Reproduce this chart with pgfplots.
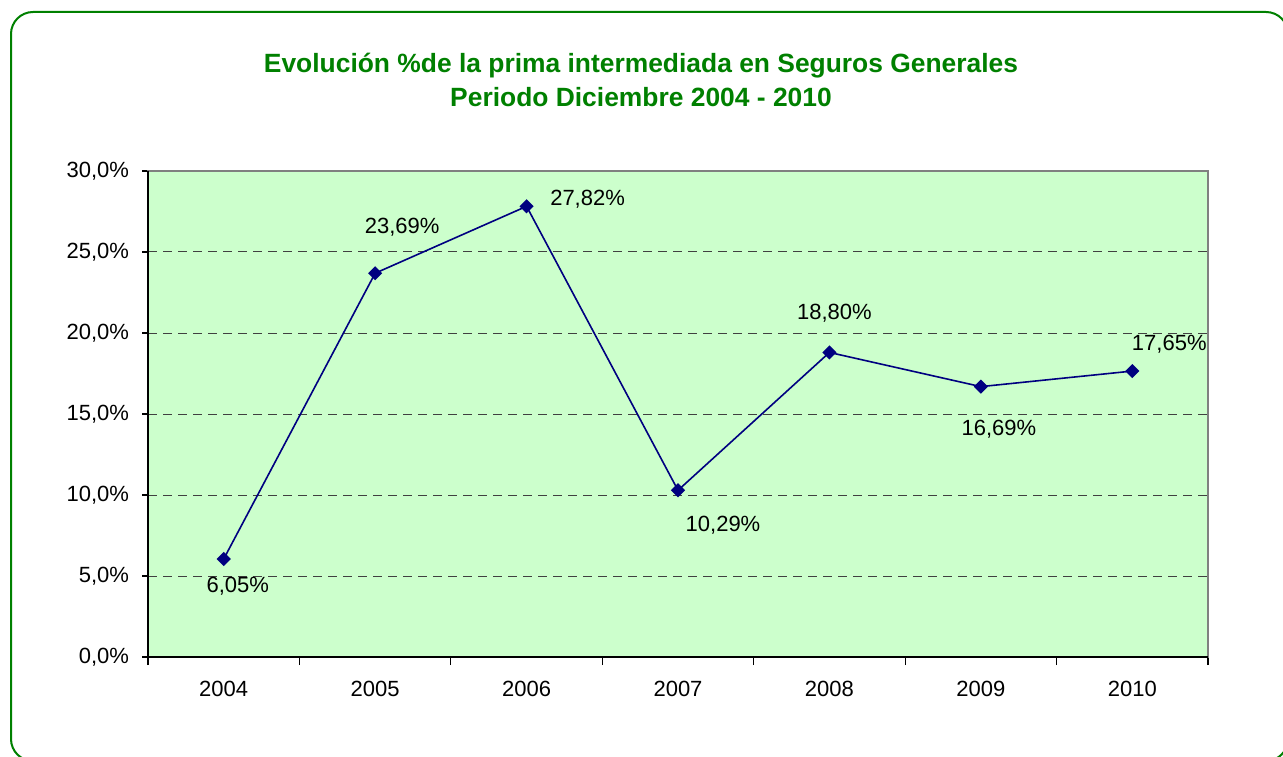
\documentclass[border=0pt]{standalone}
\usepackage{pgfplots}
\pgfplotsset{compat=1.18}
\usepackage{fontspec}
\setmainfont{Liberation Sans}

\definecolor{titlegreen}{HTML}{008000}
\definecolor{plotbg}{HTML}{CCFFCC}
\definecolor{navyline}{HTML}{000080}

\begin{document}
\begin{tikzpicture}[x=0.5pt,y=0.5pt]
\clip (0,0) rectangle (1283,756);
\path[use as bounding box] (0,0) rectangle (1283,756);

% outer chart frame (runs off the right and bottom edges)
\draw[titlegreen, line width=1pt, rounded corners=11pt] (11,-5) rectangle (1288,744);

% title
\node[align=center, text=titlegreen, font=\bfseries\fontsize{13.2}{17}\selectfont]
  at (641,676) {Evolución \%de la prima intermediada en Seguros Generales\\Periodo Diciembre 2004 - 2010};

\begin{axis}[
  at={(74pt,49.5pt)}, anchor=south west,
  scale only axis,
  width=530pt, height=243pt,
  xmin=-0.5, xmax=6.5,
  ymin=0, ymax=30,
  xtick={0,...,6},
  xticklabels={2004,2005,2006,2007,2008,2009,2010},
  minor xtick={-0.5,0.5,...,6.5},
  major x tick style={draw=none},
  minor tick length=4pt,
  major tick length=3pt,
  tick align=outside,
  xtick pos=bottom, ytick pos=left,
  ytick={0,5,...,30},
  yticklabels={{0,0\%},{5,0\%},{10,0\%},{15,0\%},{20,0\%},{25,0\%},{30,0\%}},
  ymajorgrids,
  grid style={black!75, dash pattern=on 4.5pt off 3pt, line width=0.5pt},
  axis background/.style={fill=plotbg},
  axis line style={draw=gray, line width=0.7pt},
  tick style={black, line width=0.6pt},
  tick label style={font=\fontsize{11}{13}\selectfont},
  xticklabel style={yshift=-5.5pt},
  yticklabel style={xshift=-3pt},
  clip=false,
]
\addplot[navyline, line width=0.8pt, mark=square*, mark size=2.1pt,
  mark options={fill=navyline, draw=navyline, rotate=45}]
  coordinates {(0,6.05) (1,23.69) (2,27.82) (3,10.29) (4,18.80) (5,16.69) (6,17.65)};

\draw[black, line width=0.7pt] (rel axis cs:0,1) -- (rel axis cs:0,0) -- (rel axis cs:1,0);

\begin{scope}[every node/.style={font=\fontsize{11}{13}\selectfont, inner sep=0pt}]
\node[xshift=7pt, yshift=-13.5pt] at (axis cs:0,6.05) {6,05\%};
\node[xshift=13.5pt, yshift=23pt] at (axis cs:1,23.69) {23,69\%};
\node[xshift=30.5pt, yshift=3.5pt] at (axis cs:2,27.82) {27,82\%};
\node[xshift=22.5pt, yshift=-17.5pt] at (axis cs:3,10.29) {10,29\%};
\node[xshift=2.5pt, yshift=19.5pt] at (axis cs:4,18.80) {18,80\%};
\node[xshift=9pt, yshift=-21.5pt] at (axis cs:5,16.69) {16,69\%};
\node[xshift=18.5pt, yshift=13.5pt] at (axis cs:6,17.65) {17,65\%};
\end{scope}
\end{axis}
\end{tikzpicture}
\end{document}
